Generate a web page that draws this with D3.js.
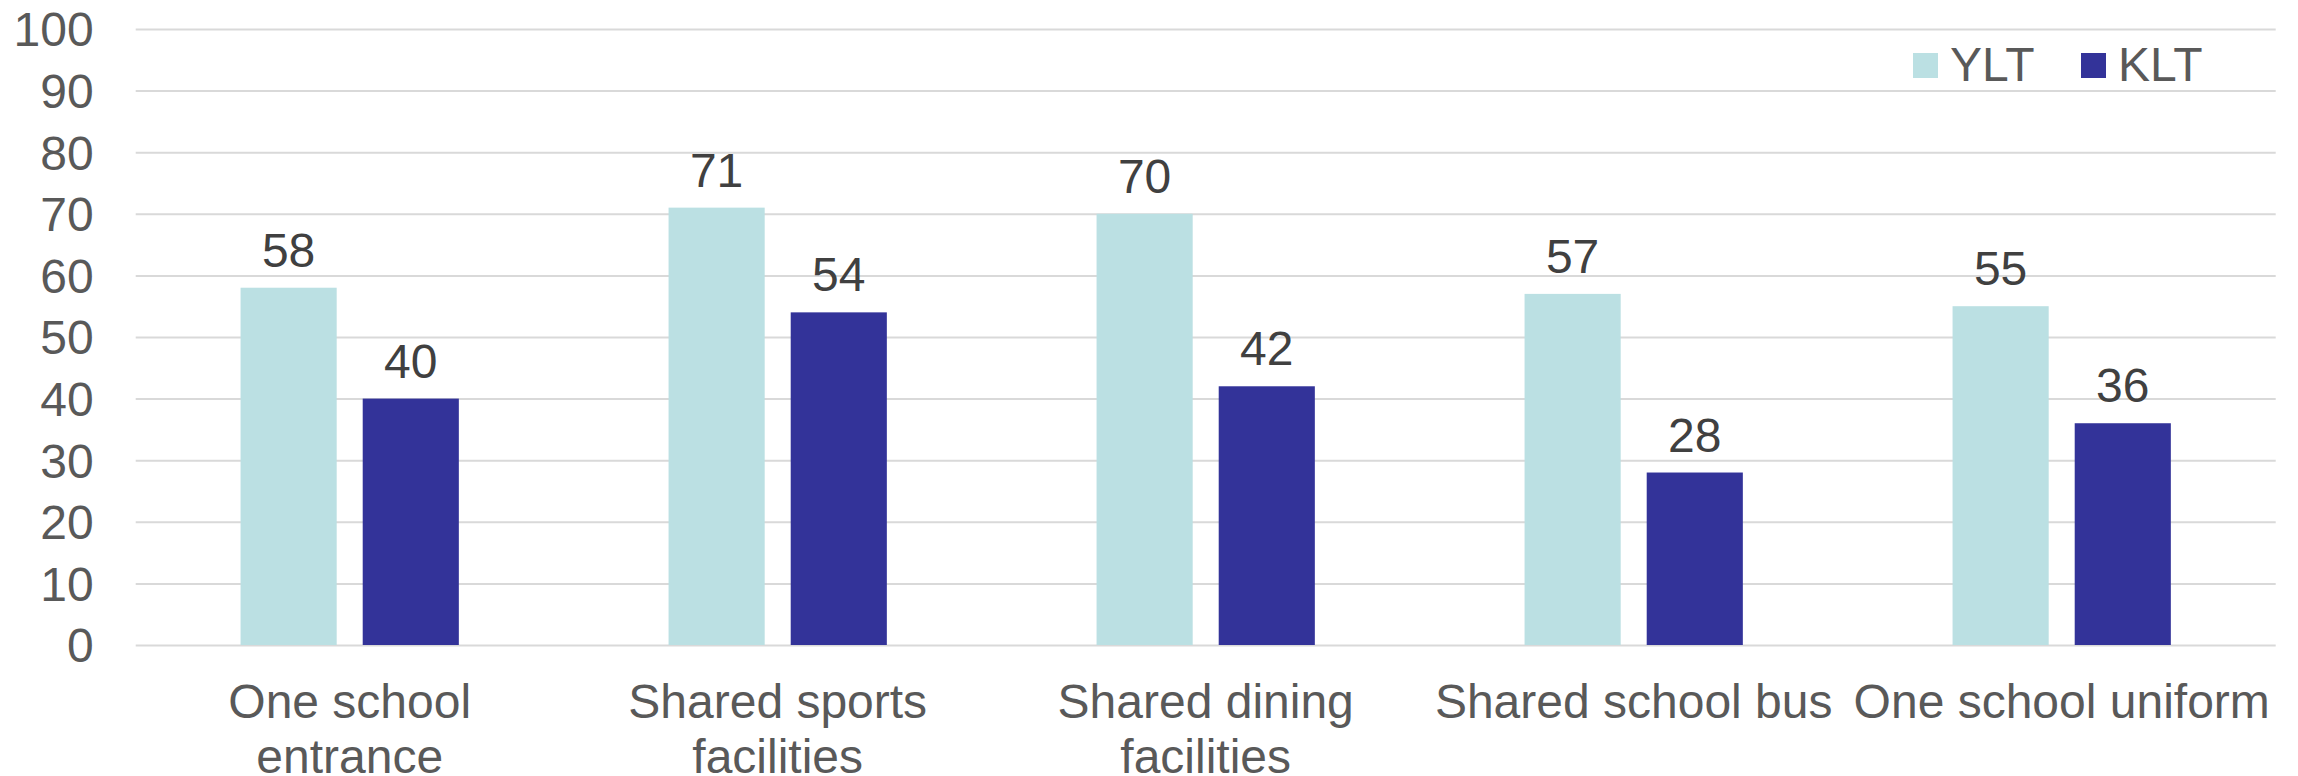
<!DOCTYPE html>
<html><head><meta charset="utf-8">
<script src="https://cdn.jsdelivr.net/npm/d3@7"></script>
<style>html,body{margin:0;padding:0;background:#fff;}svg{display:block;font-family:"Liberation Sans",Arial,sans-serif;}</style>
</head><body>
<svg id="chart" width="2298" height="776"></svg>
<script>
const categories = ["One school entrance","Shared sports facilities","Shared dining facilities","Shared school bus","One school uniform"];
const seriesNames = ["YLT","KLT"];
const ylt = [58,71,70,57,55];
const klt = [40,54,42,28,36];
const yTicks = [0,10,20,30,40,50,60,70,80,90,100];
const colors = {YLT:"#BBE0E3", KLT:"#333399"};

(function(){
const svg = d3.select("#chart");
const mLeft = 135.7, mRight = 2275.7, mTop = 29, mBottom = 645;
const x0 = d3.scaleBand().domain(categories).range([mLeft,mRight]).paddingInner(0.49).paddingOuter(0.245);
const x1 = d3.scaleBand().domain(seriesNames).range([0,x0.bandwidth()]).paddingInner(0.213).paddingOuter(0);
const y = d3.scaleLinear().domain([0,100]).range([mBottom,mTop]);
const data = categories.map((c,i)=>({cat:c, vals:[{s:"YLT",v:ylt[i]},{s:"KLT",v:klt[i]}]}));

// gridlines
const yAxis = d3.axisLeft(y).tickValues(yTicks).tickSize(-(mRight-mLeft)).tickPadding(42);
const gy = svg.append("g").attr("transform",`translate(${mLeft},0)`).call(yAxis);
gy.select(".domain").remove();
gy.selectAll(".tick line").attr("stroke","#D9D9D9").attr("stroke-width",2);
gy.selectAll(".tick text").attr("fill","#595959").attr("font-size",48).attr("dy","0.35em")
  .attr("font-family","'Liberation Sans',Arial,sans-serif");

// bars
const groups = svg.append("g").selectAll("g").data(data).join("g")
  .attr("transform",d=>`translate(${x0(d.cat)},0)`);
groups.selectAll("rect").data(d=>d.vals).join("rect")
  .attr("x",d=>x1(d.s)).attr("width",x1.bandwidth())
  .attr("y",d=>y(d.v)).attr("height",d=>y(0)-y(d.v))
  .attr("fill",d=>colors[d.s]);
groups.selectAll("text").data(d=>d.vals).join("text")
  .attr("x",d=>x1(d.s)+x1.bandwidth()/2).attr("y",d=>y(d.v)-21)
  .attr("text-anchor","middle").attr("font-size",48).attr("fill","#404040")
  .text(d=>d.v);

// x axis labels
const xAxis = d3.axisBottom(x0).tickSize(0).tickPadding(0);
const gx = svg.append("g").attr("transform",`translate(0,${mBottom})`).call(xAxis);
gx.select(".domain").remove();
gx.selectAll(".tick text").attr("font-size",48).attr("fill","#595959")
  .attr("font-family","'Liberation Sans',Arial,sans-serif").attr("dy",null).attr("y",73)
  .each(function(d){
    const t = d3.select(this);
    const words = d.split(" ");
    t.text(null);
    let line = [], lineNo = 0;
    let ts = t.append("tspan").attr("x",0).attr("y",73);
    for (const w of words){
      line.push(w);
      ts.text(line.join(" "));
      if (ts.node().getComputedTextLength() > 425 && line.length>1){
        line.pop(); ts.text(line.join(" "));
        line=[w]; lineNo++;
        ts = t.append("tspan").attr("x",0).attr("y",73+lineNo*55).text(w);
      }
    }
  });

// legend
const legendItems = [{s:"YLT",x:1913},{s:"KLT",x:2081}];
const lg = svg.append("g");
legendItems.forEach(it=>{
  lg.append("rect").attr("x",it.x).attr("y",53).attr("width",25).attr("height",25).attr("fill",colors[it.s]);
  lg.append("text").attr("x",it.x+37).attr("y",81).attr("font-size",48).attr("fill","#595959").text(it.s);
});
})();
</script>
</body></html>
